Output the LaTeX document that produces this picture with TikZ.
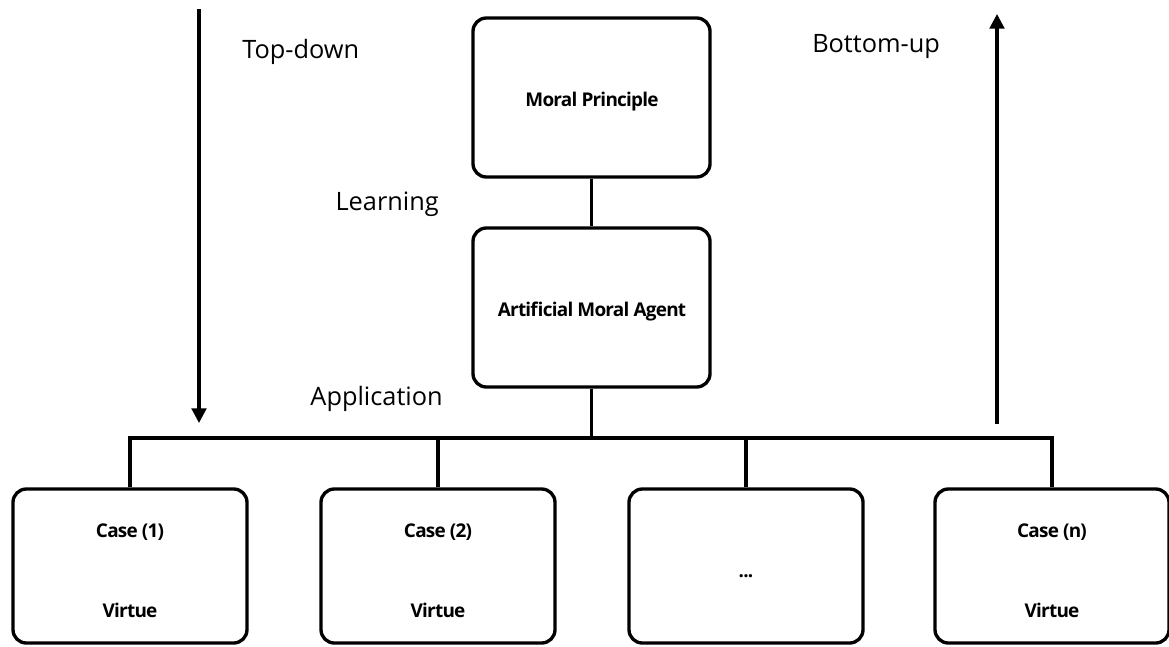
\documentclass[tikz,border=0pt]{standalone}
\usepackage{fontspec}
\setmainfont{Open Sans}
\newfontfamily\boxfont[LetterSpace=-4]{Open Sans}
\usetikzlibrary{arrows.meta}
\tikzset{
  wire/.style={line width=2.5pt},
  card/.style={draw, line width=2.5pt, rounded corners=10pt, inner sep=0pt},
  boxtext/.style={font=\boxfont\bfseries\fontsize{14.2}{16}\selectfont, inner sep=0pt},
  flowtext/.style={font=\fontsize{19}{21}\selectfont, inner sep=0pt},
  flowarrow/.style={line width=2.3pt, -{Triangle[length=11pt,width=11pt]}}
}
\begin{document}
\begin{tikzpicture}[x=0.75pt,y=-0.75pt]
\useasboundingbox (0,0) rectangle (1169,646);

% upper boxes
\node[card, minimum width=237*0.75pt, minimum height=159*0.75pt] (mp) at (591.5,97.5) {};
\node[card, minimum width=237*0.75pt, minimum height=159*0.75pt] (ama) at (591.5,307.5) {};
\node[boxtext, anchor=base] (mpt) at (592,106) {Moral Principle};
\node[boxtext, anchor=base] (amat) at (592,316.5) {Artificial Moral Agent};

% case boxes
\foreach \n/\cx in {c1/130, c2/438, c3/746, c4/1052}{
  \node[card, minimum width=234*0.75pt, minimum height=154*0.75pt] (\n) at (\cx,566) {};
}
\node[boxtext, anchor=base] (c1a) at (130,537) {Case (1)};
\node[boxtext, anchor=base] (c1b) at (130,617) {Virtue};
\node[boxtext, anchor=base] (c2a) at (438,537) {Case (2)};
\node[boxtext, anchor=base] (c2b) at (438,617) {Virtue};
\node[boxtext, anchor=base] (c3a) at (746,577) {...};
\node[boxtext, anchor=base] (c4a) at (1052,537) {Case (n)};
\node[boxtext, anchor=base] (c4b) at (1052,617) {Virtue};

% connectors
\coordinate (bus) at (591.5,438);
\draw[wire] (mp.south) -- (ama.north);
\draw[wire] (ama.south) -- (bus);
\draw[wire] (c1.north) -- (c1.north |- bus) -- (c4.north |- bus) -- (c4.north);
\draw[wire] (c2.north) -- (c2.north |- bus);
\draw[wire] (c3.north) -- (c3.north |- bus);

% direction arrows
\coordinate (tdstart) at (199,9);
\coordinate (tdend) at (199,423);
\coordinate (bustart) at (997,424);
\coordinate (buend) at (997,14);
\draw[flowarrow] (tdstart) -- (tdend);
\draw[flowarrow] (bustart) -- (buend);

% labels
\node[flowtext, anchor=base west] (td) at (242,58) {Top-down};
\node[flowtext, anchor=base west] (bu) at (812,52) {Bottom-up};
\node[flowtext, anchor=base east] (lr) at (439,210) {Learning};
\node[flowtext, anchor=base east] (ap) at (443,405) {Application};
\end{tikzpicture}
\end{document}
